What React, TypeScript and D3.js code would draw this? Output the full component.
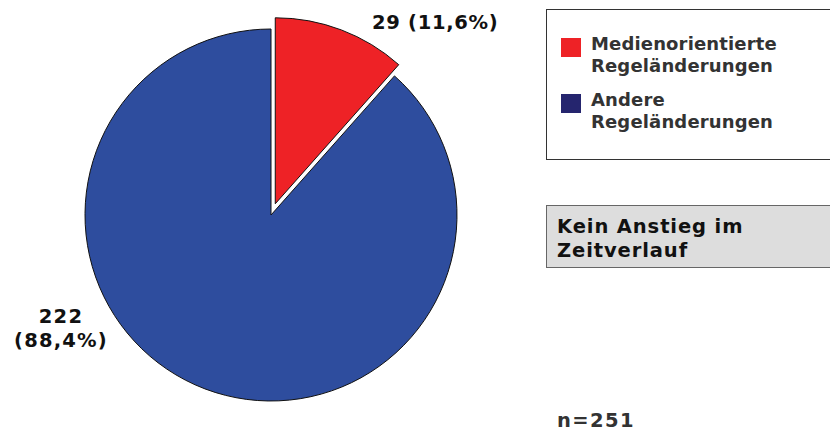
import React from "react";
import * as d3 from "d3";

const categories = ["Medienorientierte Regeländerungen", "Andere Regeländerungen"];
const values = [29, 222];
const labels = ["29 (11,6%)", "222\n(88,4%)"];
const pieColors = ["#ee2226", "#2e4d9e"];
const legendColors = ["#ee2226", "#25256e"];
const legendLines = [["Medienorientierte", "Regeländerungen"], ["Andere", "Regeländerungen"]];
const noteLines = ["Kein Anstieg im", "Zeitverlauf"];
const total = "n=251";

const App = () => {
  const width = 830;
  const height = 433;
  const cx = 271;
  const cy = 215;
  const radius = 186;
  const explode = 12;

  const pie = d3.pie<number>().sort(null).value((d) => d);
  const arcs = pie(values);
  const arc = d3.arc<d3.PieArcDatum<number>>().innerRadius(0).outerRadius(radius);

  const font = "'DejaVu Sans', Verdana, sans-serif";

  return (
    <svg width={width} height={height} style={{ position: "absolute", left: 0, top: 0, fontFamily: font }}>
      <rect width={width} height={height} fill="#fff" />
      <g transform={`translate(${cx},${cy})`}>
        {arcs.map((a, i) => {
          const mid = (a.startAngle + a.endAngle) / 2;
          const off = i === 0 ? explode : 0;
          const dx = Math.sin(mid) * off;
          const dy = -Math.cos(mid) * off;
          return (
            <path
              key={i}
              d={arc(a) || ""}
              transform={`translate(${dx},${dy})`}
              fill={pieColors[i]}
              stroke="#111"
              strokeWidth={1}
            />
          );
        })}
      </g>
      {/* slice labels */}
      <text x={372} y={29} fontSize={19.5} fontWeight="bold" letterSpacing={0.7} fill="#111">{labels[0]}</text>
      {labels[1].split("\n").map((t, i) => (
        <text key={i} x={61} y={323 + i * 24} textAnchor="middle" fontSize={19.5} fontWeight="bold" letterSpacing={1.2} fill="#111">{t}</text>
      ))}

      {/* legend */}
      <rect x={546.5} y={9.5} width={300} height={150} fill="#fff" stroke="#333" strokeWidth={1} />
      {categories.map((c, i) => (
        <g key={c}>
          <rect x={561} y={38 + i * 56} width={20} height={19} fill={legendColors[i]} />
          {legendLines[i].map((t, j) => (
            <text key={j} x={591} y={50 + i * 56 + j * 22} fontSize={18} fontWeight="bold" letterSpacing={0.15} fill="#333">{t}</text>
          ))}
        </g>
      ))}

      {/* note */}
      <rect x={546.5} y={205.5} width={300} height={62} fill="#dddddd" stroke="#666" strokeWidth={1} />
      {noteLines.map((t, i) => (
        <text key={i} x={557} y={233 + i * 24} fontSize={19.5} fontWeight="bold" letterSpacing={0.9} fill="#111">{t}</text>
      ))}

      <text x={557} y={427} fontSize={19.5} fontWeight="bold" letterSpacing={1.4} fill="#333">{total}</text>
    </svg>
  );
};

export default App;
